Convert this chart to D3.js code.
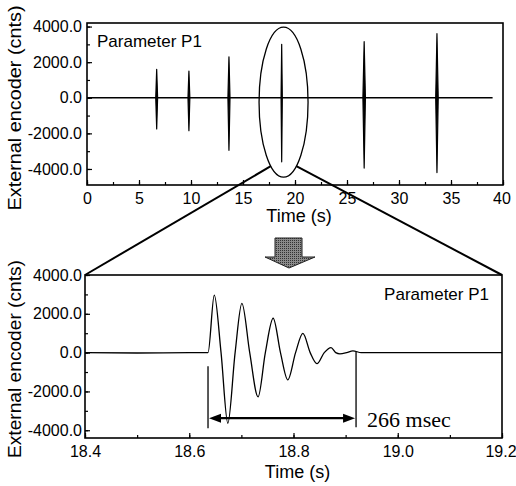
<!DOCTYPE html>
<html><head><meta charset="utf-8">
<script src="https://cdn.jsdelivr.net/npm/d3@7"></script>
<style>
body{margin:0;background:#fff;}
svg{display:block;font-family:"Liberation Sans",Arial,sans-serif;}
</style></head>
<body>
<svg id="c" width="516" height="486"></svg>
<script>
// ---- data ----
const burstTimes = [6.7, 9.8, 13.65, 18.72, 26.65, 33.65];
const burstMax   = [1600, 1500, 2300, 3000, 3150, 3600];
const burstMin   = [-1750, -1850, -2950, -3600, -3950, -4200];
const burstWidth = [0.09, 0.09, 0.1, 0.06, 0.12, 0.12];
const baselineTimes = [0, 39];

const zoomTimes  = [18.40, 18.50, 18.60, 18.636, 18.648, 18.661, 18.674, 18.688, 18.701, 18.716, 18.732, 18.746, 18.761, 18.775, 18.789, 18.804, 18.818, 18.832, 18.845, 18.859, 18.872, 18.881, 18.889, 18.902, 18.914, 18.930, 19.00, 19.10, 19.20];
const zoomValues = [0, -20, 0, 0, 2960, 0, -3640, 0, 2540, 0, -2280, 0, 1770, 0, -1400, 0, 990, 0, -570, 0, 260, 0, -60, 0, 90, 0, 0, 0, 0];

const topXTicks = [0, 5, 10, 15, 20, 25, 30, 35, 40];
const botXTicks = [18.4, 18.6, 18.8, 19.0, 19.2];
const yTicks = [-4000, -2000, 0, 2000, 4000];
const settleStart = 18.636, settleEnd = 18.92, settleLabel = "266 msec";

const svg = d3.select("#c");
const font = "\"Liberation Sans\",Arial,sans-serif";

// ---- scales ----
const xTop = d3.scaleLinear().domain([0, 40]).range([87, 503]);
const yTop = d3.scaleLinear().domain([-4900, 4200]).range([185, 23]);
const xBot = d3.scaleLinear().domain([18.4, 19.2]).range([85, 502]);
const yBot = d3.scaleLinear().domain([-4400, 4000]).range([438, 275]);

function axes(g, x, y, xTicks, xMinor, yMinor, xfmt, padY) {
  const [x0, x1] = x.range(), [y0, y1] = y.range();
  g.append("g").attr("transform", `translate(0,${y0})`)
    .call(d3.axisBottom(x).tickValues(xMinor).tickFormat("").tickSize(-3))
    .call(s => s.select(".domain").remove());
  g.append("g").attr("transform", `translate(${x0},0)`)
    .call(d3.axisLeft(y).tickValues(yMinor).tickFormat("").tickSize(-3))
    .call(s => s.select(".domain").remove());
  const xa = g.append("g").attr("transform", `translate(0,${y0})`)
    .call(d3.axisBottom(x).tickValues(xTicks).tickFormat(xfmt).tickSize(-5).tickPadding(8))
    .call(s => s.select(".domain").remove())
    .call(s => s.selectAll("text").attr("font-size", 16).attr("font-family", font).attr("fill", "#000"));
  xa.selectAll(".tick text").filter((d, i, n) => i === n.length - 1).attr("dx", -1.5);
  g.append("g").attr("transform", `translate(${x0},0)`)
    .call(d3.axisLeft(y).tickValues(yTicks).tickFormat(d => d.toFixed(1)).tickSize(-5).tickPadding(padY))
    .call(s => s.select(".domain").remove())
    .call(s => s.selectAll("text").attr("font-size", 16).attr("font-family", font).attr("fill", "#000"));
  g.selectAll(".tick line").attr("stroke", "#000").attr("stroke-width", 1.2);
  g.append("rect").attr("x", x0).attr("y", y1).attr("width", x1 - x0).attr("height", y0 - y1)
    .attr("fill", "none").attr("stroke", "#000").attr("stroke-width", 1.6);
}

// ---- top chart ----
const gT = svg.append("g");
axes(gT, xTop, yTop, topXTicks, d3.range(0, 40.01, 2.5), d3.range(-4000, 4001, 1000), d3.format("d"), 5);

gT.append("path").datum(baselineTimes)
  .attr("d", d3.line().x(d => xTop(d)).y(yTop(0)))
  .attr("stroke", "#000").attr("stroke-width", 1.3).attr("fill", "none");

gT.selectAll(".burst").data(burstTimes).join("path").attr("class", "burst")
  .attr("d", (t, i) => d3.line().curve(d3.curveLinearClosed).x(p => xTop(p[0])).y(p => yTop(p[1]))(
    [[t, burstMax[i]], [t + burstWidth[i], 0], [t, burstMin[i]], [t - burstWidth[i], 0]]))
  .attr("fill", "#000").attr("stroke", "#000").attr("stroke-width", 1.2).attr("stroke-linejoin", "round");

gT.append("text").attr("x", 97).attr("y", 47).attr("font-size", 17).attr("font-family", font).text("Parameter P1");
gT.append("text").attr("x", (xTop.range()[0] + xTop.range()[1]) / 2 + 4).attr("y", 222)
  .attr("text-anchor", "middle").attr("font-size", 18).attr("font-family", font).text("Time (s)");
gT.append("text").attr("transform", "translate(21,108) rotate(-90)")
  .attr("text-anchor", "middle").attr("font-size", 19).attr("font-family", font)
  .attr("textLength", 205).attr("lengthAdjust", "spacingAndGlyphs").text("External encoder (cnts)");

// ---- bottom chart ----
const gB = svg.append("g");
axes(gB, xBot, yBot, botXTicks, d3.range(18.4, 19.201, 0.1).map(d => +d.toFixed(2)), d3.range(-4000, 4001, 1000), d3.format(".1f"), 3);

gB.append("path").datum(zoomTimes.map((t, i) => [t, zoomValues[i]]))
  .attr("d", d3.line().curve(d3.curveMonotoneX).x(d => xBot(d[0])).y(d => yBot(d[1])))
  .attr("stroke", "#000").attr("stroke-width", 1.3).attr("fill", "none");

// settling-time markers
gB.append("line").attr("x1", xBot(settleStart)).attr("x2", xBot(settleStart))
  .attr("y1", yBot(-700)).attr("y2", yBot(-3900)).attr("stroke", "#000").attr("stroke-width", 1.3);
gB.append("line").attr("x1", xBot(settleEnd)).attr("x2", xBot(settleEnd))
  .attr("y1", yBot(30)).attr("y2", yBot(-3850)).attr("stroke", "#000").attr("stroke-width", 1.3);
const ay = yBot(-3380);
const ax0 = xBot(settleStart) + 1, ax1 = xBot(settleEnd) - 1;
gB.append("line").attr("x1", ax0 + 8).attr("x2", ax1 - 8).attr("y1", ay).attr("y2", ay)
  .attr("stroke", "#000").attr("stroke-width", 2.2);
gB.append("path").attr("d", `M${ax0},${ay}L${ax0 + 12},${ay - 4.5}L${ax0 + 12},${ay + 4.5}Z`).attr("fill", "#000");
gB.append("path").attr("d", `M${ax1},${ay}L${ax1 - 12},${ay - 4.5}L${ax1 - 12},${ay + 4.5}Z`).attr("fill", "#000");
gB.append("text").attr("x", xBot(settleEnd) + 11).attr("y", 427)
  .attr("font-size", 22).attr("font-family", "\"Liberation Serif\",\"Times New Roman\",serif").text(settleLabel);

gB.append("text").attr("x", 489).attr("y", 300).attr("text-anchor", "end").attr("font-size", 17).attr("font-family", font).text("Parameter P1");
gB.append("text").attr("x", (xBot.range()[0] + xBot.range()[1]) / 2 + 4).attr("y", 478)
  .attr("text-anchor", "middle").attr("font-size", 18).attr("font-family", font).text("Time (s)");
gB.append("text").attr("transform", "translate(21,359) rotate(-90)")
  .attr("text-anchor", "middle").attr("font-size", 19).attr("font-family", font)
  .attr("textLength", 198).attr("lengthAdjust", "spacingAndGlyphs").text("External encoder (cnts)");

// ---- zoom annotation ----
const ell = {cx: xTop(18.9), cy: yTop(-250), rx: 24.5, ry: 75};
svg.append("ellipse").attr("cx", ell.cx).attr("cy", ell.cy).attr("rx", ell.rx).attr("ry", ell.ry)
  .attr("fill", "none").attr("stroke", "#000").attr("stroke-width", 1.3);
const ang = Math.asin(0.853);
const pL = [ell.cx - ell.rx * Math.cos(ang), ell.cy + ell.ry * Math.sin(ang)];
const pR = [ell.cx + ell.rx * Math.cos(ang), ell.cy + ell.ry * Math.sin(ang)];
svg.append("line").attr("x1", pL[0]).attr("y1", pL[1]).attr("x2", xBot.range()[0]).attr("y2", yBot.range()[1])
  .attr("stroke", "#000").attr("stroke-width", 2);
svg.append("line").attr("x1", pR[0]).attr("y1", pR[1]).attr("x2", xBot.range()[1]).attr("y2", yBot.range()[1])
  .attr("stroke", "#000").attr("stroke-width", 2);

// block arrow
const defs = svg.append("defs");
const pat = defs.append("pattern").attr("id", "stip").attr("width", 2).attr("height", 2).attr("patternUnits", "userSpaceOnUse");
pat.append("rect").attr("width", 2).attr("height", 2).attr("fill", "#8a8a8a");
pat.append("rect").attr("width", 1).attr("height", 1).attr("fill", "#333");
svg.append("path")
  .attr("d", "M275,238L302,238L302,257L315,257L289,268L265,257L275,257Z")
  .attr("fill", "url(#stip)").attr("stroke", "#222").attr("stroke-width", 1);
</script>
</body></html>
